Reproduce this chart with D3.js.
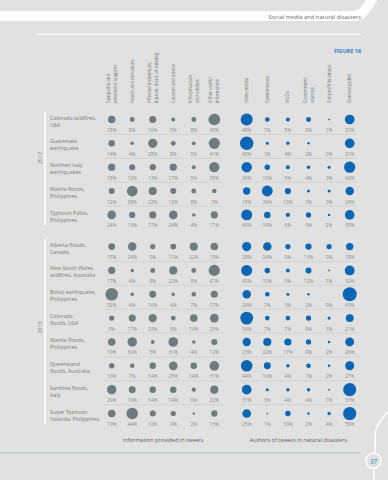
<!DOCTYPE html>
<html><head><meta charset="utf-8">
<script src="https://cdn.jsdelivr.net/npm/d3@7"></script>
<style>
html,body{margin:0;padding:0;background:#e0e1e0;}
svg{display:block;font-family:"Open Sans","Noto Sans",sans-serif;}
</style></head>
<body>
<svg id="c" width="388" height="480"></svg>
<script>
const infoCategories = [
  ["Sympathy and","emotional support"],
  ["Needs and donations"],
  ["Affected individuals,","injured, dead, or missing"],
  ["Caution and advice"],
  ["Infrastructure","and utilities"],
  ["Other useful","information"]
];
const authorCategories = [
  ["News media"],
  ["Eyewitnesses"],
  ["NGOs"],
  ["Government","sources"],
  ["For-profit business"],
  ["General public"]
];
const years = ["2012","2013"];
const eventYears = ["2012","2012","2012","2012","2012","2013","2013","2013","2013","2013","2013","2013","2013"];
const eventNames = [
  ["Colorado wildfires,","USA"],
  ["Guatemala","earthquake"],
  ["Northen Italy","earthquakes"],
  ["Manila floods,","Philippines"],
  ["Typhoon Pablo,","Philippines"],
  ["Alberta floods,","Canada"],
  ["New South Wales","wildfires, Australia"],
  ["Bohol earthquake,","Philippines"],
  ["Colorado","floods, USA"],
  ["Manila floods,","Philippines"],
  ["Queensland","floods, Australia"],
  ["Sardinia floods,","Italy"],
  ["Super Typhoon","Yolanda, Philippines"]
];
const infoValues = [
  [18,8,16,5,8,45],
  [14,4,28,8,5,41],
  [18,12,13,17,5,35],
  [12,38,22,12,8,7],
  [24,13,17,24,4,17],
  [15,24,9,11,22,19],
  [17,4,8,22,8,41],
  [52,4,16,4,7,17],
  [9,17,23,8,19,25],
  [19,30,5,31,4,12],
  [10,7,14,25,14,31],
  [29,16,14,14,6,22],
  [19,44,12,9,2,13]
];
const authorValues = [
  [48,7,5,8,1,31],
  [60,3,4,2,0,31],
  [36,10,5,4,3,42],
  [18,39,13,3,3,24],
  [40,14,6,9,2,30],
  [28,24,9,13,9,18],
  [40,10,5,12,1,32],
  [24,7,3,2,0,65],
  [54,7,7,9,3,21],
  [23,22,17,9,2,26],
  [44,16,4,7,2,27],
  [31,3,4,4,1,57],
  [25,1,10,2,4,58]
];
const sectionTitles = ["Information provided in tweets","Authors of tweets in natural disasters"];
const headerText = "Social media and natural disasters";
const figureLabel = "FIGURE 16";
const pageNumber = "37";

const svg = d3.select("#c");
const bg = "#e0e1e0";

// top band
svg.append("path").attr("d","M-5,16 H352 C360,16 363,13 367,7 L374,-4")
  .attr("fill","none").attr("stroke","#fff").attr("stroke-width",10);
svg.append("text").attr("x",361).attr("y",18.5).attr("text-anchor","end")
  .attr("font-size",5.8).attr("fill","#6a6a6a").text(headerText);
svg.append("line").attr("x1",36).attr("x2",361).attr("y1",34.3).attr("y2",34.3)
  .attr("stroke","#fff").attr("stroke-width",1);
svg.append("text").attr("x",361).attr("y",53).attr("text-anchor","end")
  .attr("font-size",5.4).attr("font-weight","bold").attr("fill","#2f80c0").text(figureLabel);

// scales
const xInfo = d3.scalePoint().domain(d3.range(infoCategories.length)).range([111.7,214.3]);
const xAuth = d3.scalePoint().domain(d3.range(authorCategories.length)).range([246.7,349.7]);
const slot = eventYears.map((y,i)=> i + (y==="2013"?0.33:0));
const yRow = d3.scaleLinear().domain([0,12.33]).range([130,424]);
const r = d3.scaleSqrt().domain([0,65]).range([0,7]);

// column headers
function headers(cats, x){
  cats.forEach((lines,i)=>{
    const cx = x(i);
    const n = lines.length, lh = 7;
    const t = svg.append("text").attr("transform",`translate(${cx},103) rotate(-90)`)
      .attr("text-anchor","start").attr("font-size",4.4).attr("fill","#777");
    lines.forEach((l,k)=>{
      t.append("tspan").attr("x",0).attr("y", (k-(n-1)/2)*lh - 0.5).attr("dominant-baseline","central").text(l);
    });
  });
}
headers(infoCategories, xInfo);
headers(authorCategories, xAuth);

// year bars
years.forEach((yr,k)=>{
  const idx = eventYears.map((e,i)=>e===yr?i:-1).filter(i=>i>=0);
  const y0 = yRow(slot[idx[0]]) - 18, y1 = yRow(slot[idx[idx.length-1]]);
  svg.append("line").attr("x1",45).attr("x2",45).attr("y1",y0).attr("y2",y1)
    .attr("stroke","#fff").attr("stroke-width",1.6);
  const ly = k===0 ? y0 + 46 : (y0+y1)/2 - 4;
  svg.append("text").attr("transform",`translate(40,${ly}) rotate(-90)`)
    .attr("text-anchor","middle").attr("dominant-baseline","central")
    .attr("font-size",5.2).attr("fill","#777").text(yr);
});

// rows
eventNames.forEach((lines,i)=>{
  const ly = yRow(slot[i]);
  const cy = ly - 10.5;
  const t = svg.append("text").attr("font-size",5.3).attr("fill","#7a7a7a");
  lines.forEach((l,k)=>{
    t.append("tspan").attr("x",50).attr("y",cy - 2 + k*7).attr("dominant-baseline","central").text(l);
  });
  const last = i===eventYears.length-1 || eventYears[i+1]!==eventYears[i];
  [[infoValues,xInfo,"#6c7c80"],[authorValues,xAuth,"#0b66b4"]].forEach(([vals,x,col])=>{
    const g = svg.append("g");
    g.selectAll("circle").data(vals[i]).join("circle")
      .attr("cx",(d,j)=>x(j)).attr("cy",cy).attr("r",d=>r(d)).attr("fill",col);
    g.selectAll("text").data(vals[i]).join("text")
      .attr("x",(d,j)=>x(j)).attr("y",ly).attr("text-anchor","middle").attr("dominant-baseline","central")
      .attr("font-size",4.8).attr("fill","#8c8c8c").text(d=>d+"%");
    if(!last){
      const dom = x.domain();
      g.append("line").attr("x1",x(dom[0])-7).attr("x2",x(dom[dom.length-1])+9)
        .attr("y1",ly+4.5).attr("y2",ly+4.5)
        .attr("stroke","#b4b4b4").attr("stroke-width",0.6).attr("stroke-dasharray","0.8,0.8");
    }
  });
});

// section titles
svg.append("text").attr("x",(xInfo(0)+xInfo(5))/2).attr("y",439.5).attr("text-anchor","middle")
  .attr("dominant-baseline","central").attr("font-size",5.6).attr("fill","#5e5e5e").text(sectionTitles[0]);
svg.append("text").attr("x",(xAuth(0)+xAuth(5))/2).attr("y",439.5).attr("text-anchor","middle")
  .attr("dominant-baseline","central").attr("font-size",5.6).attr("fill","#5e5e5e").text(sectionTitles[1]);

// bottom line and page marker
svg.append("line").attr("x1",0).attr("x2",360).attr("y1",452.7).attr("y2",452.7)
  .attr("stroke","#c6cbce").attr("stroke-width",1.5);
svg.append("path").attr("d","M375,453 V437 Q375,428 381,420 L392,406")
  .attr("fill","none").attr("stroke","#fff").attr("stroke-width",1.5);
svg.append("line").attr("x1",374).attr("x2",374).attr("y1",468).attr("y2",481)
  .attr("stroke","#fff").attr("stroke-width",1.5);
svg.append("circle").attr("cx",373.5).attr("cy",460.8).attr("r",7.5)
  .attr("fill",bg).attr("stroke","#fff").attr("stroke-width",1.5);
svg.append("text").attr("x",373.5).attr("y",461).attr("text-anchor","middle").attr("dominant-baseline","central")
  .attr("font-size",6.3).attr("fill","#2f80c0").text(pageNumber);
</script>
</body></html>
